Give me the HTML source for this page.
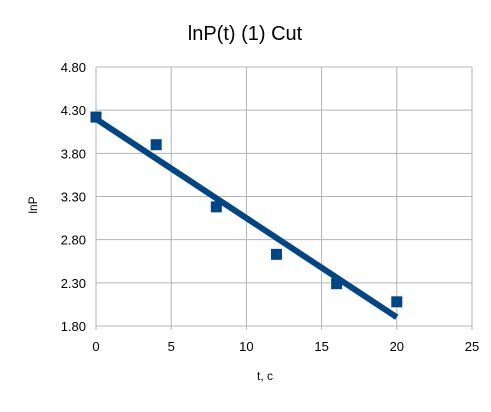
<!DOCTYPE html>
<html><head><meta charset="utf-8"><style>
body{margin:0;background:#fff;font-family:"Liberation Sans",sans-serif}
</style></head><body>
<svg id="chart" width="491" height="407" xmlns="http://www.w3.org/2000/svg">
<rect width="491" height="407" fill="#fff"/>
<text x="245" y="40" text-anchor="middle" font-size="20" fill="#000">lnP(t) (1) Cut</text>
<g id="grid"></g><g id="ticks"></g><g id="marks"></g>
<text x="0" y="0" transform="translate(37,205) rotate(-90)" text-anchor="middle" font-size="12">lnP</text>
<text x="265" y="380" text-anchor="middle" font-size="12">t, c</text>
</svg>
<script>
const xs=[0,4,8,12,16,20];
const ys=[4.22,3.90,3.18,2.63,2.29,2.08];
const xTicks=[0,5,10,15,20,25];
const yTicks=[1.8,2.3,2.8,3.3,3.8,4.3,4.8];
const NS="http://www.w3.org/2000/svg";
const X=v=>96+v*(472-96)/25, Y=v=>326-(v-1.8)*(326-67)/3;
function mk(t,a,p){const e=document.createElementNS(NS,t);for(const k in a)e.setAttribute(k,a[k]);document.getElementById(p).appendChild(e);return e;}
yTicks.forEach(v=>{
 const l=mk('line',{x1:X(0),x2:X(25),y1:Y(v),y2:Y(v),stroke:'#b3b3b3','stroke-width':1},'grid');
 
 
 const t=mk('text',{x:X(0)-10,y:Y(v)+5,'text-anchor':'end','font-size':13},'ticks');t.textContent=v.toFixed(2);
 
 
});
xTicks.forEach(v=>{
 const l=mk('line',{x1:X(v),x2:X(v),y1:Y(4.8),y2:Y(1.8)+4,stroke:'#b3b3b3','stroke-width':1},'grid');
 
 
 const t=mk('text',{x:X(v),y:Y(1.8)+25,'text-anchor':'middle','font-size':13},'ticks');t.textContent=v;
 
 
});
const n=xs.length,mx=xs.reduce((a,b)=>a+b)/n,my=ys.reduce((a,b)=>a+b)/n;
let sxy=0,sxx=0;xs.forEach((x,i)=>{sxy+=(x-mx)*(ys[i]-my);sxx+=(x-mx)**2;});
const b=sxy/sxx,a=my-b*mx,x0=Math.min(...xs),x1=Math.max(...xs);
const tl=mk('line',{x1:X(x0),y1:Y(a+b*x0),x2:X(x1),y2:Y(a+b*x1),stroke:'#004586','stroke-width':6},'marks');


xs.forEach((x,i)=>{
 const r=mk('rect',{x:X(x)-5.5,y:Y(ys[i])-5.5,width:11,height:11,fill:'#004586'},'marks');
 
 
});
</script>
</body></html>
